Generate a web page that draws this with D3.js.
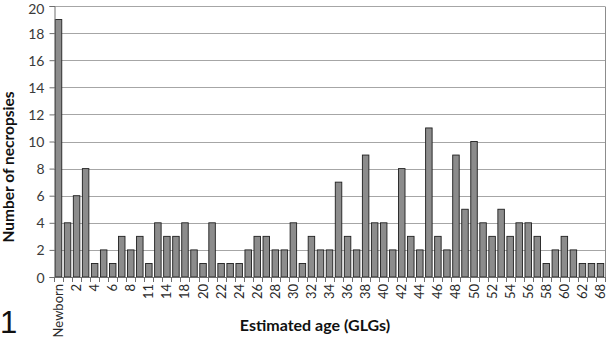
<!DOCTYPE html>
<html>
<head>
<meta charset="utf-8">
<script src="https://cdn.jsdelivr.net/npm/d3@7/dist/d3.min.js"></script>
<style>
  html, body { margin: 0; padding: 0; background: #fff; }
  svg { display: block; }
</style>
</head>
<body>
<script>
const categories = ["Newborn","1","2","3","4","5","6","7","8","10","11","13","14","16","18","19","20","21","22","23","24","25","26","27","28","29","30","31","32","33","34","35","36","37","38","39","40","41","42","43","44","45","46","47","48","49","50","51","52","53","54","55","56","57","58","59","60","61","62","65","68"];
const values = [19,4,6,8,1,2,1,3,2,3,1,4,3,3,4,2,1,4,1,1,1,2,3,3,2,2,4,1,3,2,2,7,3,2,9,4,4,2,8,3,2,11,3,2,9,5,10,4,3,5,3,4,4,3,1,2,3,2,1,1,1];
const yTicks = [0,2,4,6,8,10,12,14,16,18,20];
const labelledCategories = categories.filter((d, i) => i % 2 === 0);
const xTitle = "Estimated age (GLGs)";
const yTitle = "Number of necropsies";
const panelLabel = "1";

const W = 607, H = 339;
const m = {left: 54, right: 2, top: 6, bottom: 62};
const svg = d3.select("body").append("svg").attr("width", W).attr("height", H);

const x = d3.scaleBand().domain(categories)
  .range([m.left, W - m.right]).paddingInner(0.28).paddingOuter(0.14);
const y = d3.scaleLinear().domain([0, 20]).range([H - m.bottom, m.top]);

// gridlines
svg.append("g").selectAll("line").data(yTicks.filter(d => d > 0)).join("line")
  .attr("x1", m.left).attr("x2", W - m.right)
  .attr("y1", d => Math.round(y(d)) + 0.5).attr("y2", d => Math.round(y(d)) + 0.5)
  .attr("stroke", "#a6a6a6").attr("stroke-width", 1);

// right border
svg.append("line")
  .attr("x1", W - m.right + 0.5).attr("x2", W - m.right + 0.5)
  .attr("y1", Math.round(y(20)) + 0.5).attr("y2", Math.round(y(0)) + 0.5)
  .attr("stroke", "#8c8c8c");

// bars
svg.append("g").selectAll("rect").data(values).join("rect")
  .attr("x", (d, i) => x(categories[i]))
  .attr("y", d => y(d))
  .attr("width", x.bandwidth())
  .attr("height", d => y(0) - y(d))
  .attr("fill", "#8c8c8c")
  .attr("stroke", "#1f1f1f")
  .attr("stroke-width", 0.9);

// y axis
const yAxis = svg.append("g").attr("transform", `translate(${m.left + 0.5},0)`)
  .call(d3.axisLeft(y).tickValues(yTicks).tickSize(5).tickPadding(5));
yAxis.select(".domain").attr("stroke", "#6e6e6e");
yAxis.selectAll(".tick line").attr("stroke", "#6e6e6e");
yAxis.selectAll("text").attr("font-family", "Lato, sans-serif").attr("font-size", "14px").attr("fill", "#3a3a3a")
  .attr("dy", d => d === 20 ? "0.5em" : "0.36em");

// x axis baseline
svg.append("line")
  .attr("x1", m.left).attr("x2", W - m.right)
  .attr("y1", Math.round(y(0)) + 0.5).attr("y2", Math.round(y(0)) + 0.5)
  .attr("stroke", "#6e6e6e");

// x axis ticks at category boundaries
const step = x.step();
const boundaries = d3.range(categories.length + 1);
svg.append("g").selectAll("line").data(boundaries).join("line")
  .attr("x1", i => Math.round(x.range()[0] + i * step) + 0.5)
  .attr("x2", i => Math.round(x.range()[0] + i * step) + 0.5)
  .attr("y1", Math.round(y(0)))
  .attr("y2", Math.round(y(0)) + 5)
  .attr("stroke", "#6e6e6e");

// x labels
svg.append("g").selectAll("text").data(labelledCategories).join("text")
  .attr("transform", d => `translate(${x(d) + x.bandwidth() / 2 + 4.5},${y(0) + 7}) rotate(-90)`)
  .attr("text-anchor", "end")
  .attr("font-family", "Lato, sans-serif")
  .attr("font-size", "13px")
  .attr("fill", "#2a2a2a")
  .text(d => d);

// axis titles
svg.append("text")
  .attr("x", 315).attr("y", 331)
  .attr("text-anchor", "middle")
  .attr("font-family", "Lato, sans-serif").attr("font-weight", "bold")
  .attr("font-size", "16px").attr("fill", "#111")
  .text(xTitle);

svg.append("text")
  .attr("transform", `translate(14,167) rotate(-90)`)
  .attr("text-anchor", "middle")
  .attr("font-family", "Lato, sans-serif").attr("font-weight", "bold")
  .attr("font-size", "15.5px").attr("fill", "#111")
  .text(yTitle);

svg.append("text")
  .attr("x", 0).attr("y", 333)
  .attr("font-family", "Liberation Sans, Arial, sans-serif")
  .attr("font-size", "31px").attr("fill", "#111")
  .text(panelLabel);
</script>
</body>
</html>
